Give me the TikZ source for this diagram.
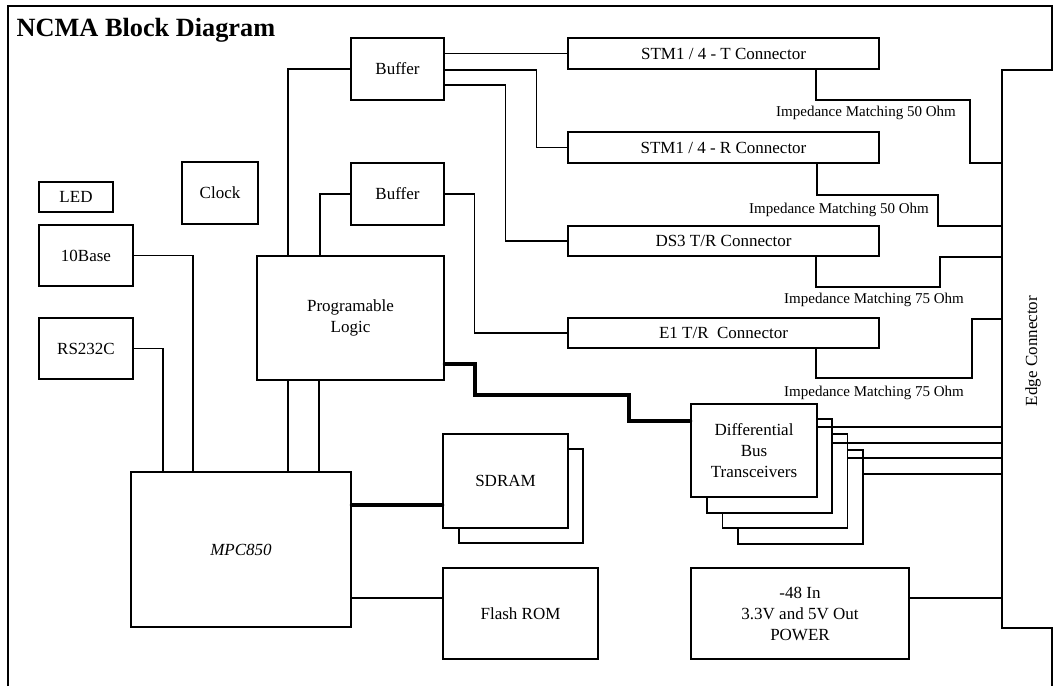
\documentclass[tikz,border=0pt]{standalone}
\usepackage{fontspec}
\setmainfont{Liberation Serif}
\usetikzlibrary{calc}
\begin{document}
\begin{tikzpicture}[x=1pt,y=-1pt,
  line width=1.3pt,
  blk/.style={draw,fill=white,inner sep=0pt,align=center,font=\fontsize{17}{21}\selectfont},
  lbl/.style={inner sep=0pt,font=\fontsize{15}{18}\selectfont},
  bus/.style={line width=3.8pt,line cap=round}]
\useasboundingbox (0,0) rectangle (1054,686);
% frame with edge connector
\draw (8,686) -- (8,6) -- (1052,6) -- (1052,70) -- (1002,70) -- (1002,628) -- (1052,628) -- (1052,686);
\coordinate (edge) at (1002,70);
\node[inner sep=0pt,anchor=base west,font=\fontsize{26.3}{30}\selectfont\bfseries] (title) at (16,36) {NCMA Block Diagram};
\node[rotate=90,inner sep=0pt,font=\fontsize{17}{21}\selectfont] (edgelbl) at (1033,351) {Edge Connector};
% blocks
\node[blk,minimum width=74pt,minimum height=30pt] (led) at (76,197) {LED};
\node[blk,minimum width=76pt,minimum height=62pt] (clock) at (220,193) {Clock};
\node[blk,minimum width=94pt,minimum height=61pt] (tenbase) at (86,255.5) {10Base};
\node[blk,minimum width=94pt,minimum height=61pt] (rs) at (86,348.5) {RS232C};
\node[blk,minimum width=93pt,minimum height=62pt] (buf1) at (397.5,69) {Buffer};
\node[blk,minimum width=93pt,minimum height=62pt] (buf2) at (397.5,194) {Buffer};
\node[blk,minimum width=187pt,minimum height=124pt] (pl) at (350.5,318) {Programable\\Logic};
\node[blk,minimum width=220pt,minimum height=155pt] (mpc) at (241,549.5) {\itshape MPC850};
\node[blk,minimum width=311pt,minimum height=31pt] (stmt) at (723.5,53.5) {STM1 / 4 - T Connector};
\node[blk,minimum width=311pt,minimum height=31pt] (stmr) at (723.5,147.5) {STM1 / 4 - R Connector};
\node[blk,minimum width=311pt,minimum height=30pt] (ds3) at (723.5,241) {DS3 T/R Connector};
\node[blk,minimum width=311pt,minimum height=30pt] (e1) at (723.5,333) {E1 T/R\ \ Connector};
\node[blk,minimum width=124pt,minimum height=94pt] (sdramb) at (521,496) {};
\node[blk,minimum width=125pt,minimum height=94pt] (sdram) at (505.5,481) {SDRAM};
\node[blk,minimum width=155pt,minimum height=91pt] (flash) at (520.5,613.5) {Flash ROM};
\node[blk,minimum width=125pt,minimum height=94pt] (diffc) at (800.5,497) {};
\node[blk,minimum width=125pt,minimum height=94pt] (diffb) at (785,481) {};
\node[blk,minimum width=125pt,minimum height=94pt] (diffa) at (769.5,466) {};
\node[blk,minimum width=126pt,minimum height=93pt] (diff) at (754,450.5) {Differential\\Bus\\Transceivers};
\node[blk,minimum width=218pt,minimum height=91pt] (power) at (800,613.5) {-48 In\\3.3V and 5V Out\\POWER};
% connectors
\draw (tenbase.east) -| (mpc.north -| 193,0);
\draw (rs.east) -| (mpc.north -| 163,0);
\draw (pl.south -| 288,0) -- (mpc.north -| 288,0);
\draw (pl.south -| 319,0) -- (mpc.north -| 319,0);
\draw (pl.north -| 288,0) |- (buf1.west);
\draw (pl.north -| 320,0) |- (buf2.west);
\draw (buf1.east |- 0,53.5) -- (stmt.west);
\draw (buf1.east |- 0,70) -| ([xshift=-31pt]stmr.west) -- (stmr.west);
\draw (buf1.east |- 0,85) -| ([xshift=-62pt]ds3.west) -- (ds3.west);
\draw (buf2.east) -| ([xshift=-93pt]e1.west) -- (e1.west);
% impedance matching
\draw (stmt.south -| 816,0) -- (816,100) -| (970,163) -- (edge |- 0,163);
\node[lbl] (imp1) at (866,113) {Impedance Matching 50 Ohm};
\draw (stmr.south -| 817,0) -- (817,195) -| (938,226) -- (edge |- 0,226);
\node[lbl] (imp2) at (839,210) {Impedance Matching 50 Ohm};
\draw (ds3.south -| 816,0) -- (816,287) -| (940,257) -- (edge |- 0,257);
\node[lbl] (imp3) at (874,300) {Impedance Matching 75 Ohm};
\draw (e1.south -| 816,0) -- (816,378) -| (972,319) -- (edge |- 0,319);
\node[lbl] (imp4) at (874,393) {Impedance Matching 75 Ohm};
% differential lines
\draw (diff.east |- 0,427) -- (edge |- 0,427);
\draw (diffa.east |- 0,443) -- (edge |- 0,443);
\draw (diffb.east |- 0,458) -- (edge |- 0,458);
\draw (diffc.east |- 0,474) -- (edge |- 0,474);
\draw (power.east |- 0,598) -- (edge |- 0,598);
\draw (mpc.east |- 0,598) -- (flash.west |- 0,598);
% buses
\draw[bus] (mpc.east |- 0,505) -- (sdram.west |- 0,505);
\draw[bus] (pl.east |- 0,364) -| (475,395) -| (629,421) -- (diff.west |- 0,421);
\end{tikzpicture}
\end{document}
